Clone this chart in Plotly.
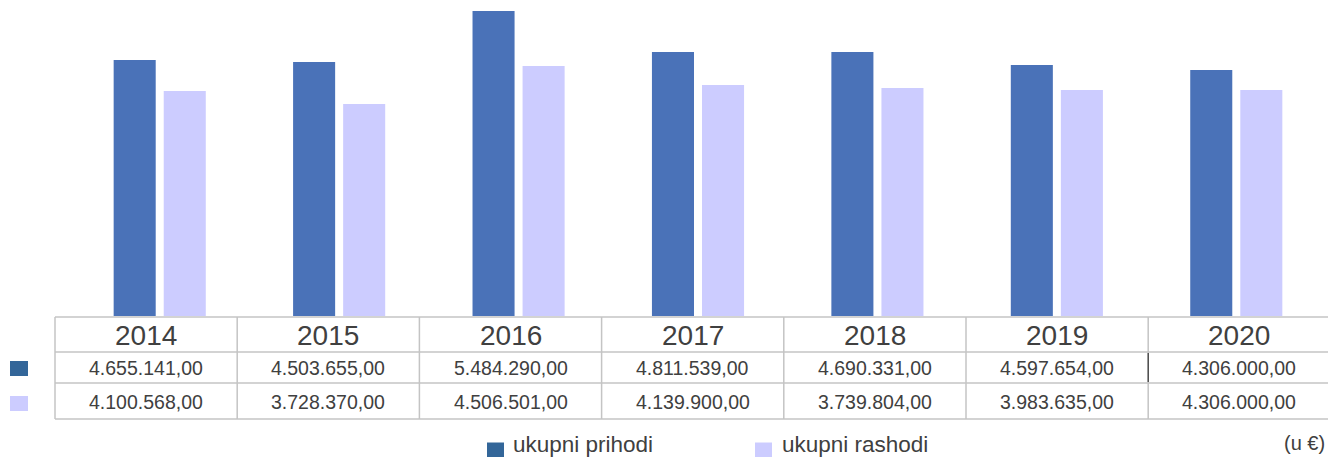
import plotly.graph_objects as go

# ---- data ----
years = ["2014", "2015", "2016", "2017", "2018", "2019", "2020"]
prihodi_table = [4655141, 4503655, 5484290, 4811539, 4690331, 4597654, 4306000]
rashodi_table = [4100568, 3728370, 4506501, 4139900, 3739804, 3983635, 4306000]
# bar heights as drawn in the picture (estimated)
prihodi_bar = [4603000, 4567000, 5484000, 4747000, 4747000, 4513000, 4423000]
rashodi_bar = [4046000, 3812000, 4495000, 4154000, 4100000, 4064000, 4064000]
series_names = ["ukupni prihodi", "ukupni rashodi"]
unit_label = "(u €)"

W, H = 1328, 457
C_PRIH = "#4a72b8"
C_PRIH_LEG = "#336699"
C_RASH = "#ccccff"
GRID = "#c4c4c4"
TXT = "#404040"
FONT = "Liberation Sans, Arial, sans-serif"


def fx(px):
    return px / W


def fy(py):
    return 1 - py / H


def fmt(v):
    s = f"{v:,}".replace(",", ".")
    return s + ",00"


fig = go.Figure()
fig.add_trace(go.Bar(x=years, y=prihodi_bar, name=series_names[0],
                     marker=dict(color=C_PRIH, line=dict(width=0)), showlegend=False))
fig.add_trace(go.Bar(x=years, y=rashodi_bar, name=series_names[1],
                     marker=dict(color=C_RASH, line=dict(width=0)), showlegend=False))

shapes = []
annotations = []

# table geometry
x0 = 55
colw = 182.2
rows_y = [317, 352, 383, 419]
for y in rows_y:
    shapes.append(dict(type="line", xref="paper", yref="paper",
                       x0=fx(x0), x1=fx(W + 5), y0=fy(y), y1=fy(y),
                       line=dict(color=GRID, width=1.5)))
for k in range(len(years) + 1):
    xv = x0 + colw * k
    shapes.append(dict(type="line", xref="paper", yref="paper",
                       x0=fx(xv), x1=fx(xv), y0=fy(rows_y[0]), y1=fy(rows_y[-1]),
                       line=dict(color=GRID, width=1.5)))
shapes.append(dict(type="line", xref="paper", yref="paper",
                   x0=fx(x0 + colw * 6), x1=fx(x0 + colw * 6), y0=fy(353), y1=fy(382),
                   line=dict(color="#333333", width=1.2)))

for i, yr in enumerate(years):
    cx = x0 + colw * (i + 0.5)
    annotations.append(dict(text=yr, x=fx(cx), y=fy(335), xref="paper", yref="paper",
                            showarrow=False, xanchor="center", yanchor="middle",
                            font=dict(size=28, color=TXT, family=FONT)))
    annotations.append(dict(text=fmt(prihodi_table[i]), x=fx(cx), y=fy(368), xref="paper", yref="paper",
                            showarrow=False, xanchor="center", yanchor="middle",
                            font=dict(size=19.5, color=TXT, family=FONT)))
    annotations.append(dict(text=fmt(rashodi_table[i]), x=fx(cx), y=fy(401.5), xref="paper", yref="paper",
                            showarrow=False, xanchor="center", yanchor="middle",
                            font=dict(size=19.5, color=TXT, family=FONT)))

# table row keys
shapes.append(dict(type="rect", xref="paper", yref="paper", x0=fx(10), x1=fx(28), y0=fy(376), y1=fy(361),
                   fillcolor=C_PRIH_LEG, line=dict(width=0)))
shapes.append(dict(type="rect", xref="paper", yref="paper", x0=fx(10), x1=fx(28), y0=fy(411), y1=fy(396),
                   fillcolor=C_RASH, line=dict(width=0)))

# custom legend
leg = [(487, 514, C_PRIH_LEG, series_names[0]), (755, 783, C_RASH, series_names[1])]
for mx, tx, col, name in leg:
    shapes.append(dict(type="rect", xref="paper", yref="paper", x0=fx(mx), x1=fx(mx + 17),
                       y0=fy(459), y1=fy(442.5), fillcolor=col, line=dict(width=0)))
    annotations.append(dict(text=name, x=fx(tx - 3), y=fy(444), xref="paper", yref="paper",
                            showarrow=False, xanchor="left", yanchor="middle",
                            font=dict(size=22.5, color=TXT, family=FONT)))

annotations.append(dict(text=unit_label, x=fx(1327), y=fy(443), xref="paper", yref="paper",
                        showarrow=False, xanchor="right", yanchor="middle",
                        font=dict(size=20, color=TXT, family=FONT)))

fig.update_layout(
    width=W, height=H,
    margin=dict(l=0, r=0, t=0, b=0, autoexpand=False),
    paper_bgcolor="white", plot_bgcolor="white",
    barmode="group", bargap=0.442, bargroupgap=0.16,
    xaxis=dict(domain=[fx(70), fx(1326)], showticklabels=False, showgrid=False,
               zeroline=False, showline=False, ticks="", range=[-0.5, 6.5]),
    yaxis=dict(domain=[fy(316), fy(6)], range=[0, 5574000], showticklabels=False,
               showgrid=False, zeroline=False, showline=False, ticks=""),
    shapes=shapes, annotations=annotations,
    showlegend=False,
)

fig.write_html("out.html", config={"displayModeBar": False},
               post_script="document.body.style.margin='0';document.body.style.padding='0';")
